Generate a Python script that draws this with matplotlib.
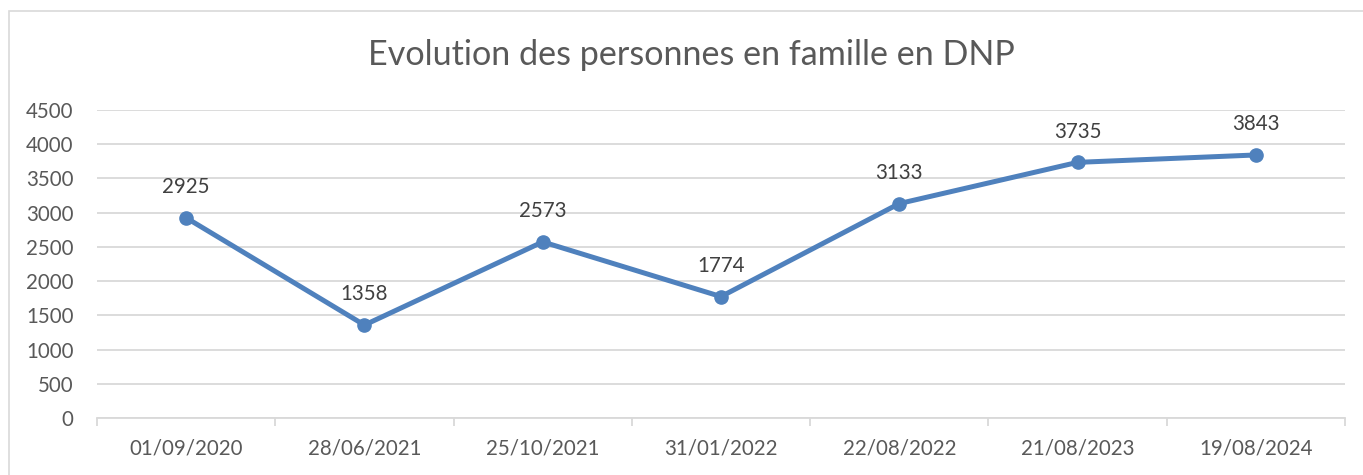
import matplotlib
matplotlib.use('Agg')
import matplotlib.pyplot as plt
from matplotlib.ticker import MultipleLocator, FixedLocator
from matplotlib.patches import Rectangle

plt.rcParams['font.family'] = ['Lato', 'DejaVu Sans']

dates = ['01/09/2020', '28/06/2021', '25/10/2021', '31/01/2022',
         '22/08/2022', '21/08/2023', '19/08/2024']
personnes = [2925, 1358, 2573, 1774, 3133, 3735, 3843]

line_color = '#4F81BD'
grid_color = '#D9D9D9'
text_gray = '#595959'

fig = plt.figure(figsize=(13.63, 4.75), dpi=100)
ax = fig.add_axes([97/1363, 1 - 418/475, (1345 - 97)/1363, (418 - 110)/475])

# chart border (Excel style)
fig.patches.append(Rectangle((8.5/1363, -0.1), 1.2, 1 - 11/475 + 0.1,
                             transform=fig.transFigure, fill=False,
                             edgecolor='#D9D9D9', linewidth=1.2))

x = range(len(dates))
ax.plot(x, personnes, color=line_color, linewidth=3.6, marker='o',
        markersize=9.5, zorder=3)
for i, v in enumerate(personnes):
    ax.annotate(str(v), (i, v), xytext=(0, 22), textcoords='offset points',
                ha='center', va='center', fontsize=14.8, color='#404040')

ax.set_xlim(-0.5, len(dates) - 0.5)
ax.set_ylim(0, 4500)
ax.yaxis.set_major_locator(MultipleLocator(500))
ax.grid(True, axis='y', color=grid_color, linewidth=1.3)
ax.set_axisbelow(True)

ax.set_xticks(list(x))
ax.set_xticklabels(dates)
ax.xaxis.set_minor_locator(FixedLocator([i - 0.5 for i in range(len(dates) + 1)]))
ax.tick_params(axis='x', which='major', length=0, pad=15, labelsize=14.8,
               labelcolor=text_gray)
ax.tick_params(axis='x', which='minor', length=6, width=1.3, color=grid_color)
ax.tick_params(axis='y', length=0, pad=17, labelsize=14.8, labelcolor=text_gray)

for s in ['top', 'right', 'left']:
    ax.spines[s].set_visible(False)
ax.spines['bottom'].set_color(grid_color)
ax.spines['bottom'].set_linewidth(1.3)

fig.text(691/1363, 1 - 55/475, 'Evolution des personnes en famille en DNP',
         ha='center', va='center', fontsize=24.6, color=text_gray)

fig.savefig('out.png', dpi=100)
